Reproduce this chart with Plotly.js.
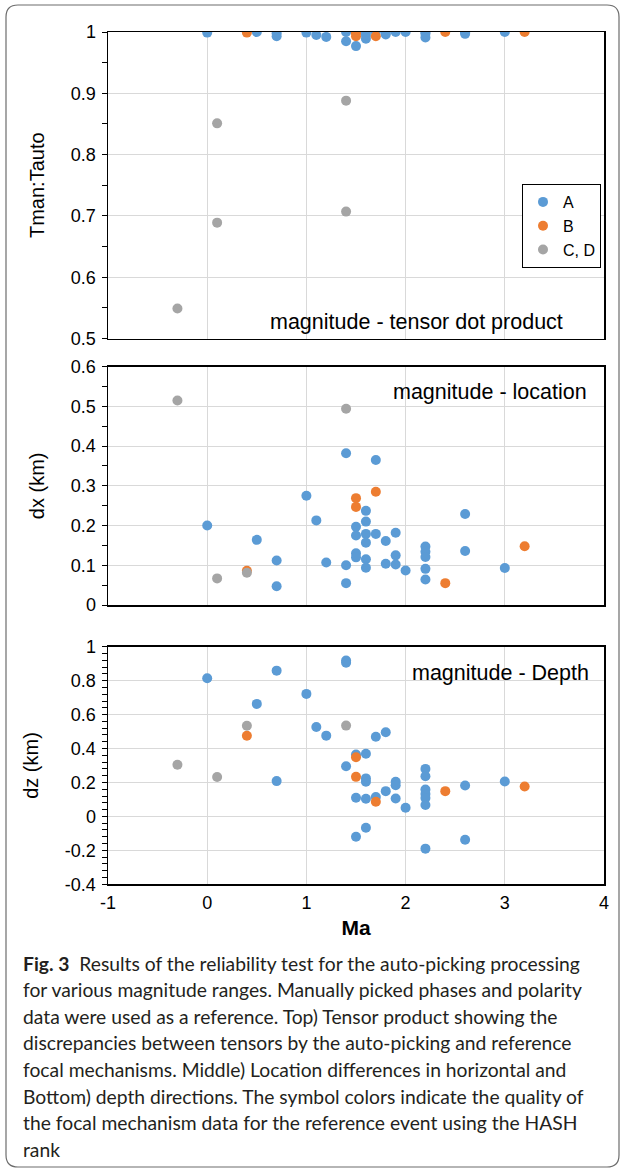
<!DOCTYPE html>
<html>
<head>
<meta charset="utf-8">
<script src="https://cdn.plot.ly/plotly-3.0.1.min.js"></script>
<style>
html,body{margin:0;padding:0;background:#fff;}
#chart{width:624px;height:1171px;}
</style>
</head>
<body>
<div id="chart"></div>
<script>
// ---------------- DATA ----------------
const seriesNames = ["A", "B", "C, D"];
const seriesColors = ["#5B9BD5", "#ED7D31", "#A5A5A5"];

// Top panel: magnitude vs tensor dot product (Tman:Tauto)
const topA_x = [0, 0.5, 0.7, 0.7, 1.0, 1.1, 1.2, 1.4, 1.4, 1.5, 1.5, 1.6, 1.6, 1.6, 1.7, 1.8, 1.8, 1.9, 2.0, 2.2, 2.2, 2.2, 2.6, 2.6, 3.0];
const topA_y = [0.999, 1.0, 0.998, 0.993, 0.999, 0.995, 0.992, 1.0, 0.985, 1.0, 0.977, 1.0, 0.995, 0.989, 1.0, 0.999, 0.996, 1.0, 1.0, 1.0, 0.997, 0.991, 0.999, 0.997, 1.0];
const topB_x = [0.4, 1.5, 1.5, 1.7, 2.4, 3.2];
const topB_y = [0.999, 0.998, 0.993, 0.993, 1.0, 1.0];
const topC_x = [-0.3, 0.1, 0.1, 1.4, 1.4];
const topC_y = [0.549, 0.689, 0.851, 0.888, 0.707];

// Middle panel: magnitude vs location difference dx (km)
const midA_x = [0, 0.5, 0.7, 0.7, 1.0, 1.1, 1.2, 1.4, 1.4, 1.4, 1.5, 1.5, 1.5, 1.5, 1.6, 1.6, 1.6, 1.6, 1.6, 1.6, 1.7, 1.7, 1.8, 1.8, 1.9, 1.9, 1.9, 2.0, 2.2, 2.2, 2.2, 2.2, 2.2, 2.6, 2.6, 3.0];
const midA_y = [0.200, 0.164, 0.112, 0.047, 0.275, 0.213, 0.107, 0.382, 0.100, 0.055, 0.197, 0.175, 0.130, 0.120, 0.237, 0.210, 0.179, 0.157, 0.115, 0.094, 0.365, 0.179, 0.161, 0.104, 0.182, 0.125, 0.102, 0.087, 0.147, 0.134, 0.121, 0.091, 0.064, 0.229, 0.136, 0.093];
const midB_x = [0.4, 1.5, 1.5, 1.7, 2.4, 3.2];
const midB_y = [0.086, 0.269, 0.247, 0.285, 0.055, 0.148];
const midC_x = [-0.3, 0.1, 0.4, 1.4];
const midC_y = [0.515, 0.067, 0.081, 0.494];

// Bottom panel: magnitude vs depth difference dz (km)
const botA_x = [0, 0.5, 0.7, 0.7, 1.0, 1.1, 1.2, 1.4, 1.4, 1.4, 1.5, 1.5, 1.5, 1.6, 1.6, 1.6, 1.6, 1.6, 1.7, 1.7, 1.8, 1.8, 1.9, 1.9, 1.9, 2.0, 2.2, 2.2, 2.2, 2.2, 2.2, 2.2, 2.2, 2.6, 2.6, 3.0];
const botA_y = [0.814, 0.663, 0.859, 0.208, 0.722, 0.527, 0.476, 0.918, 0.906, 0.296, 0.365, 0.110, -0.120, 0.369, 0.224, 0.204, 0.104, -0.067, 0.469, 0.114, 0.496, 0.149, 0.204, 0.184, 0.106, 0.051, 0.280, 0.237, 0.158, 0.132, 0.108, 0.067, -0.190, 0.182, -0.137, 0.206];
const botB_x = [0.4, 1.5, 1.5, 1.7, 2.4, 3.2];
const botB_y = [0.475, 0.349, 0.233, 0.086, 0.149, 0.176];
const botC_x = [-0.3, 0.1, 0.4, 1.4];
const botC_y = [0.304, 0.232, 0.534, 0.535];

// Tick labels
const xTickVals = [-1, 0, 1, 2, 3, 4];
const xTickText = ["-1", "0", "1", "2", "3", "4"];
const yTopVals = [0.5, 0.6, 0.7, 0.8, 0.9, 1.0];
const yTopText = ["0.5", "0.6", "0.7", "0.8", "0.9", "1"];
const yMidVals = [0, 0.1, 0.2, 0.3, 0.4, 0.5, 0.6];
const yMidText = ["0", "0.1", "0.2", "0.3", "0.4", "0.5", "0.6"];
const yBotVals = [-0.4, -0.2, 0, 0.2, 0.4, 0.6, 0.8, 1.0];
const yBotText = ["-0.4", "-0.2", "0", "0.2", "0.4", "0.6", "0.8", "1"];

// Texts
const yTitles = ["Tman:Tauto", "dx (km)", "dz (km)"];
const xTitle = "Ma";
const panelLabels = ["magnitude - tensor dot product", "magnitude - location", "magnitude - Depth"];
const captionLines = [
  "<b>Fig. 3</b>  Results of the reliability test for the auto-picking processing",
  "for various magnitude ranges. Manually picked phases and polarity",
  "data were used as a reference. Top) Tensor product showing the",
  "discrepancies between tensors by the auto-picking and reference",
  "focal mechanisms. Middle) Location differences in horizontal and",
  "Bottom) depth directions. The symbol colors indicate the quality of",
  "the focal mechanism data for the reference event using the HASH",
  "rank"
];

// ---------------- LAYOUT HELPERS ----------------
const W = 624, H = 1171;
const PX = p => p / W;
const PY = p => 1 - p / H;
const FONT = "Liberation Sans, Arial, sans-serif";

const panels = [
  {xs: [topA_x, topB_x, topC_x], ys: [topA_y, topB_y, topC_y], xa: "x", ya: "y"},
  {xs: [midA_x, midB_x, midC_x], ys: [midA_y, midB_y, midC_y], xa: "x2", ya: "y2"},
  {xs: [botA_x, botB_x, botC_x], ys: [botA_y, botB_y, botC_y], xa: "x3", ya: "y3"}
];

const traces = [];
panels.forEach((p, pi) => {
  for (let s = 0; s < 3; s++) {
    traces.push({
      type: "scatter", mode: "markers",
      x: p.xs[s], y: p.ys[s],
      xaxis: p.xa, yaxis: p.ya,
      name: seriesNames[s],
      legendgroup: seriesNames[s],
      showlegend: pi === 0,
      marker: {color: seriesColors[s], size: 10, line: {width: 0}},
      hoverinfo: "x+y"
    });
  }
});

const xDom = [PX(108), PX(604)];
function xAxis(anchor, showLabels) {
  return {
    domain: xDom, anchor: anchor, range: [-1, 4],
    tickmode: "array", tickvals: xTickVals, ticktext: xTickText,
    showticklabels: showLabels, ticks: "",
    showgrid: true, gridcolor: "#d9d9d9", gridwidth: 1,
    zeroline: false, showline: true, mirror: true, linecolor: "#000", linewidth: 1.5,
    tickfont: {family: FONT, size: 18, color: "#000"},
    ticklabelstandoff: 2
  };
}
function yAxis(anchor, dom, range, vals, text, minorDtick, title) {
  return {
    domain: dom, anchor: anchor, range: range,
    tickmode: "array", tickvals: vals, ticktext: text,
    ticks: "outside", ticklen: 5, tickcolor: "#000", tickwidth: 1,
    minor: {tickmode: "linear", tick0: 0, dtick: minorDtick, ticks: "outside", ticklen: 5, tickcolor: "#000", tickwidth: 1, showgrid: false},
    showgrid: true, gridcolor: "#d9d9d9", gridwidth: 1,
    zeroline: false, showline: true, mirror: true, linecolor: "#000", linewidth: 1.5,
    tickfont: {family: FONT, size: 18, color: "#000"},
    ticklabelstandoff: 2,
    title: {text: title, font: {family: FONT, size: 20, color: "#000"}, standoff: 21},
    automargin: false
  };
}

const r = 12, fx0 = 6, fy0 = 5, fx1 = 619, fy1 = 1167;
const framePath =
  `M ${PX(fx0 + r)},${PY(fy0)} L ${PX(fx1 - r)},${PY(fy0)} Q ${PX(fx1)},${PY(fy0)} ${PX(fx1)},${PY(fy0 + r)} ` +
  `L ${PX(fx1)},${PY(fy1 - r)} Q ${PX(fx1)},${PY(fy1)} ${PX(fx1 - r)},${PY(fy1)} ` +
  `L ${PX(fx0 + r)},${PY(fy1)} Q ${PX(fx0)},${PY(fy1)} ${PX(fx0)},${PY(fy1 - r)} ` +
  `L ${PX(fx0)},${PY(fy0 + r)} Q ${PX(fx0)},${PY(fy0)} ${PX(fx0 + r)},${PY(fy0)} Z`;

const annotations = [
  {text: panelLabels[0], x: PX(565), y: PY(322), xanchor: "right", yanchor: "middle"},
  {text: panelLabels[1], x: PX(589), y: PY(392), xanchor: "right", yanchor: "middle"},
  {text: panelLabels[2], x: PX(591), y: PY(673), xanchor: "right", yanchor: "middle"}
].map(a => Object.assign(a, {xref: "paper", yref: "paper", showarrow: false, font: {family: FONT, size: 21.5, color: "#000"}}));

const capY0 = 963, capDY = 26.6;
captionLines.forEach((t, i) => {
  annotations.push({
    text: t, xref: "paper", yref: "paper", x: PX(21), y: PY(capY0 + i * capDY),
    xanchor: "left", yanchor: "middle", showarrow: false, align: "left",
    font: {family: "Lato, Open Sans, sans-serif", size: 19.3, color: "#231f20"}
  });
});

const layout = {
  width: W, height: H,
  margin: {l: 0, r: 0, t: 0, b: 0, pad: 0},
  paper_bgcolor: "#fff", plot_bgcolor: "#fff",
  font: {family: FONT, color: "#000"},
  showlegend: true,
  legend: {
    x: PX(522), y: PY(184), xanchor: "left", yanchor: "top",
    bgcolor: "#fff", bordercolor: "#000", borderwidth: 1,
    font: {family: FONT, size: 16, color: "#000"},
    itemwidth: 30, tracegroupgap: 0
  },
  xaxis: xAxis("y", false),
  xaxis2: xAxis("y2", false),
  xaxis3: Object.assign(xAxis("y3", true), {title: {text: "<b>" + xTitle + "</b>", font: {family: FONT, size: 21, color: "#000"}, standoff: 8}, automargin: false}),
  yaxis: yAxis("x", [PY(338.5), PY(32)], [0.5, 1], yTopVals, yTopText, 0.05, yTitles[0]),
  yaxis2: yAxis("x2", [PY(605), PY(366.7)], [0, 0.6], yMidVals, yMidText, 0.05, yTitles[1]),
  yaxis3: yAxis("x3", [PY(884.3), PY(646.7)], [-0.4, 1], yBotVals, yBotText, 0.04, yTitles[2]),
  shapes: [{type: "path", xref: "paper", yref: "paper", path: framePath, line: {color: "#6d6d6d", width: 1.2}, fillcolor: "rgba(0,0,0,0)"}],
  annotations: annotations
};

Plotly.newPlot("chart", traces, layout, {displayModeBar: false, staticPlot: true});
</script>
</body>
</html>
